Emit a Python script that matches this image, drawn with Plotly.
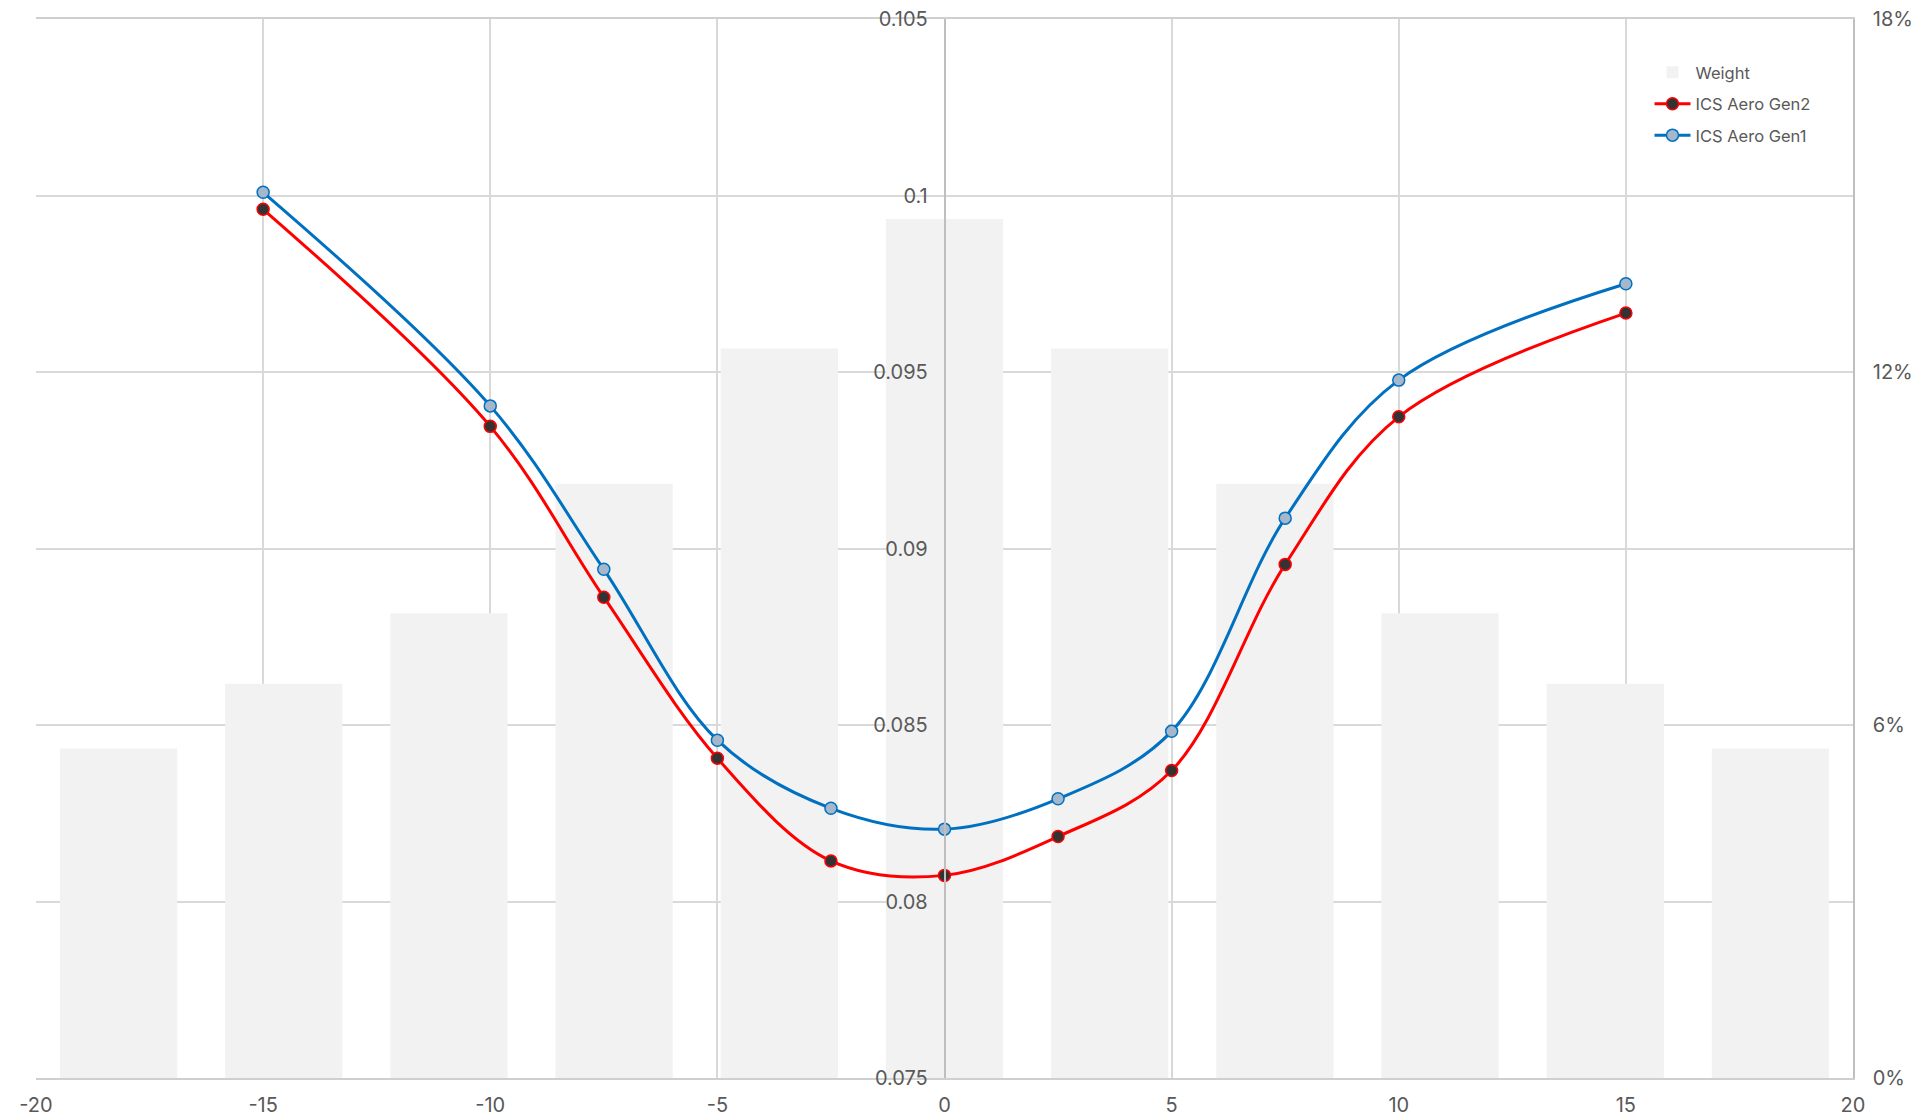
import plotly.graph_objects as go

# ---- data ----
yaw_angle = [-15, -10, -7.5, -5, -2.5, 0, 2.5, 5, 7.5, 10, 15]
gen2_values = [0.09961, 0.09346, 0.08862, 0.08406, 0.08115, 0.08074,
               0.08184, 0.08371, 0.08955, 0.09373, 0.09667]
gen1_values = [0.10009, 0.09404, 0.08941, 0.08457, 0.08264, 0.08205,
               0.08291, 0.08482, 0.09086, 0.09477, 0.09750]

weight_bins = ["1", "2", "3", "4", "5", "6", "7", "8", "9", "10", "11"]
weight_values = [0.056, 0.067, 0.079, 0.101, 0.124, 0.146,
                 0.124, 0.101, 0.079, 0.067, 0.056]

x_tick_vals = [-20, -15, -10, -5, 0, 5, 10, 15, 20]
x_tick_text = ["-20", "-15", "-10", "-5", "0", "5", "10", "15", "20"]
y_tick_vals = [0.075, 0.08, 0.085, 0.09, 0.095, 0.1, 0.105]
y_tick_text = ["0.075", "0.08", "0.085", "0.09", "0.095", "0.1", "0.105"]
w_tick_vals = [0, 0.06, 0.12, 0.18]
w_tick_text = ["0%", "6%", "12%", "18%"]

FONT = "Inter"
TXT = "#595959"
GRID = "#d9d9d9"
AXIS = "#bfbfbf"
TICK_SIZE = 20

fig = go.Figure()

fig.add_trace(go.Bar(
    x=weight_bins, y=weight_values, name="Weight",
    marker=dict(color="#f2f2f2", line=dict(width=0)),
    xaxis="x", yaxis="y", legendgroup="w",
))

fig.add_trace(go.Scatter(
    x=yaw_angle, y=gen2_values, name="ICS Aero Gen2",
    mode="lines+markers",
    line=dict(color="#ff0000", width=3, shape="spline", smoothing=1),
    marker=dict(size=12, color="#333333", line=dict(color="#ff0000", width=1.5)),
    xaxis="x2", yaxis="y2", legendgroup="g2",
))

fig.add_trace(go.Scatter(
    x=yaw_angle, y=gen1_values, name="ICS Aero Gen1",
    mode="lines+markers",
    line=dict(color="#0070c0", width=3, shape="spline", smoothing=1),
    marker=dict(size=12, color="#a5b8cb", line=dict(color="#0070c0", width=1.5)),
    xaxis="x2", yaxis="y2", legendgroup="g1",
))

fig.update_layout(
    width=1913, height=1117,
    margin=dict(l=36, r=60, t=19, b=39, autoexpand=False),
    paper_bgcolor="white", plot_bgcolor="white",
    font=dict(family=FONT, color=TXT, size=TICK_SIZE),
    bargap=0.29,
    showlegend=True,
    legend=dict(
        x=0.888, y=0.966, xanchor="left", yanchor="top",
        font=dict(family=FONT, size=16.5, color=TXT),
        bgcolor="rgba(0,0,0,0)", tracegroupgap=7, itemwidth=36,
    ),
    xaxis=dict(
        type="category", range=[-0.5, 10.5], visible=False,
        showgrid=False, zeroline=False, automargin=False,
    ),
    yaxis=dict(
        side="right", range=[0, 0.18], tickvals=w_tick_vals, ticktext=w_tick_text,
        showgrid=False, zeroline=False, showline=True, linecolor=AXIS, linewidth=1.5,
        ticks="", ticklabelstandoff=14, tickfont=dict(size=TICK_SIZE, color=TXT),
        automargin=False,
    ),
    xaxis2=dict(
        overlaying="x", anchor="y2", side="bottom", range=[-20, 20],
        tickvals=x_tick_vals, ticktext=x_tick_text,
        showgrid=True, gridcolor=GRID, gridwidth=1.5, zeroline=False,
        showline=True, linecolor="#cfcfcf", linewidth=1.5, mirror=True,
        ticks="", ticklabelstandoff=8, tickfont=dict(size=TICK_SIZE, color=TXT),
        automargin=False,
    ),
    yaxis2=dict(
        overlaying="y", anchor="free", position=0.5, side="left",
        range=[0.075, 0.105], tickvals=y_tick_vals, ticktext=y_tick_text,
        showgrid=True, gridcolor=GRID, gridwidth=1.5, zeroline=False,
        showline=True, linecolor=AXIS, linewidth=1.5,
        ticks="", ticklabelstandoff=12, tickfont=dict(size=TICK_SIZE, color=TXT),
        automargin=False,
    ),
)

fig.write_html(
    "out.html",
    config={"displayModeBar": False},
    post_script="document.body.style.margin='0';document.body.style.overflow='hidden';",
)
